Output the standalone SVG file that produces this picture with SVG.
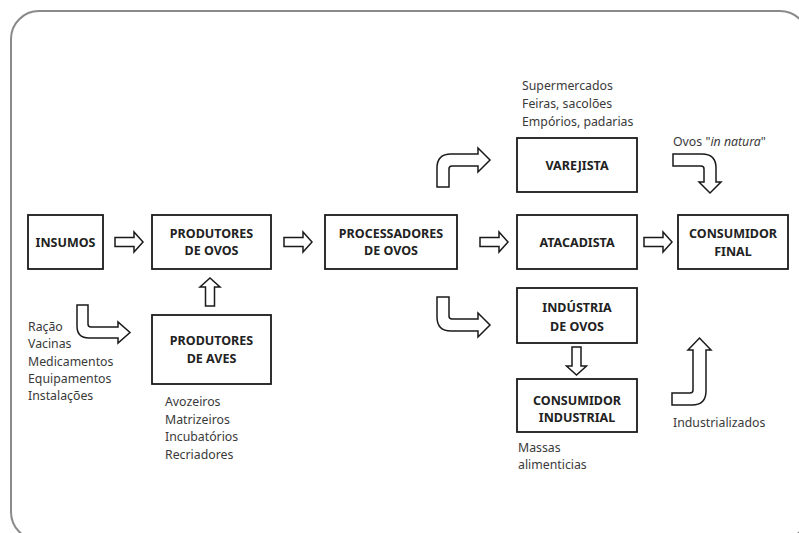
<svg xmlns="http://www.w3.org/2000/svg" width="799" height="533" viewBox="0 0 799 533">
<style>
.frame{fill:none;stroke:#8a8a8a;stroke-width:2}
.box{fill:#fff;stroke:#1a1a1a;stroke-width:1.8}
.lbl{font-family:"Noto Sans","Open Sans",sans-serif;font-weight:bold;font-size:12.5px;fill:#222;text-anchor:middle}
.txt{font-family:"Noto Sans","Open Sans",sans-serif;font-size:12.3px;fill:#3a3a3a}
.arr{fill:#fff;stroke:#1a1a1a;stroke-width:1.5;stroke-linejoin:miter}
</style>
<defs>
<path id="ra" d="M0,-4.5 H19 V-10 L28,0 L19,10 V4.5 H0 Z"/>
</defs>
<rect width="799" height="533" fill="#fff"/>
<rect class="frame" x="11" y="11" width="797" height="529" rx="28" ry="28"/>

<g id="insumos"><rect class="box" x="28" y="215" width="75" height="54"/><text class="lbl" x="65.5" y="246.5">INSUMOS</text></g>
<g id="produtores-ovos"><rect class="box" x="152" y="215" width="119" height="54"/><text class="lbl" x="211.5" y="237.5">PRODUTORES</text><text class="lbl" x="211.5" y="254.5">DE OVOS</text></g>
<g id="produtores-aves"><rect class="box" x="152" y="315" width="119" height="69"/><text class="lbl" x="211.5" y="344.5">PRODUTORES</text><text class="lbl" x="211.5" y="362.5">DE AVES</text></g>
<g id="processadores"><rect class="box" x="325" y="215" width="132" height="54"/><text class="lbl" x="391" y="237.5">PROCESSADORES</text><text class="lbl" x="391" y="254.5">DE OVOS</text></g>
<g id="varejista"><rect class="box" x="517" y="138" width="120" height="54"/><text class="lbl" x="577" y="169.5">VAREJISTA</text></g>
<g id="atacadista"><rect class="box" x="517" y="215" width="120" height="54"/><text class="lbl" x="577" y="246.5">ATACADISTA</text></g>
<g id="consumidor-final"><rect class="box" x="678" y="215" width="110" height="54"/><text class="lbl" x="733" y="237.5">CONSUMIDOR</text><text class="lbl" x="733" y="255.5">FINAL</text></g>
<g id="industria"><rect class="box" x="517" y="288" width="120" height="55"/><text class="lbl" x="577" y="311.5">INDÚSTRIA</text><text class="lbl" x="577" y="330.5">DE OVOS</text></g>
<g id="consumidor-industrial"><rect class="box" x="517" y="379" width="120" height="53"/><text class="lbl" x="577" y="404.5">CONSUMIDOR</text><text class="lbl" x="577" y="421.5">INDUSTRIAL</text></g>

<g id="connectors">
<use href="#ra" class="arr" x="0" y="0" transform="translate(115,242)"/>
<use href="#ra" class="arr" transform="translate(284,242)"/>
<use href="#ra" class="arr" transform="translate(480,242)"/>
<use href="#ra" class="arr" transform="translate(644,242)"/>
<use href="#ra" class="arr" transform="translate(210,306) rotate(-90)"/>
<use href="#ra" class="arr" transform="translate(576.5,347) rotate(90)"/>
<path class="arr" d="M77,305 L77,326 Q77,338 89,338 L118,338 L118,343 L130,332.5 L118,322 L118,327 L91,327 Q88,327 88,324 L88,305 Z"/>
<path class="arr" d="M437,187 L437,168 Q437,154 451,154 L478,154 L478,148 L490,160 L478,172 L478,166 L452,166 Q449,166 449,169 L449,187 Z"/>
<path class="arr" d="M437,297 L437,317 Q437,331 451,331 L478,331 L478,337 L490,325 L478,313 L478,319 L452,319 Q449,319 449,316 L449,297 Z"/>
<path class="arr" d="M673,154 L702,154 Q716,154 716,168 L716,182 L721,182 L710,193 L699,182 L704,182 L704,169 Q704,166 701,166 L673,166 Z"/>
<path class="arr" d="M672,393 L690,393 Q693,393 693,390 L693,350 L688,350 L699.5,338 L711,350 L706,350 L706,391 Q706,405 692,405 L672,405 Z"/>
</g>

<g id="labels">
<text class="txt" x="28" y="331">Ração</text>
<text class="txt" x="28" y="348">Vacinas</text>
<text class="txt" x="28" y="365.5">Medicamentos</text>
<text class="txt" x="28" y="383">Equipamentos</text>
<text class="txt" x="28" y="400">Instalações</text>
<text class="txt" x="165" y="406">Avozeiros</text>
<text class="txt" x="165" y="424">Matrizeiros</text>
<text class="txt" x="165" y="441">Incubatórios</text>
<text class="txt" x="165" y="459">Recriadores</text>
<text class="txt" x="522" y="90">Supermercados</text>
<text class="txt" x="522" y="108">Feiras, sacolões</text>
<text class="txt" x="522" y="126">Empórios, padarias</text>
<text class="txt" x="673" y="146">Ovos "<tspan font-style="italic">in natura</tspan>"</text>
<text class="txt" x="518" y="452">Massas</text>
<text class="txt" x="518" y="469">alimenticias</text>
<text class="txt" x="673" y="427">Industrializados</text>
</g>
</svg>
